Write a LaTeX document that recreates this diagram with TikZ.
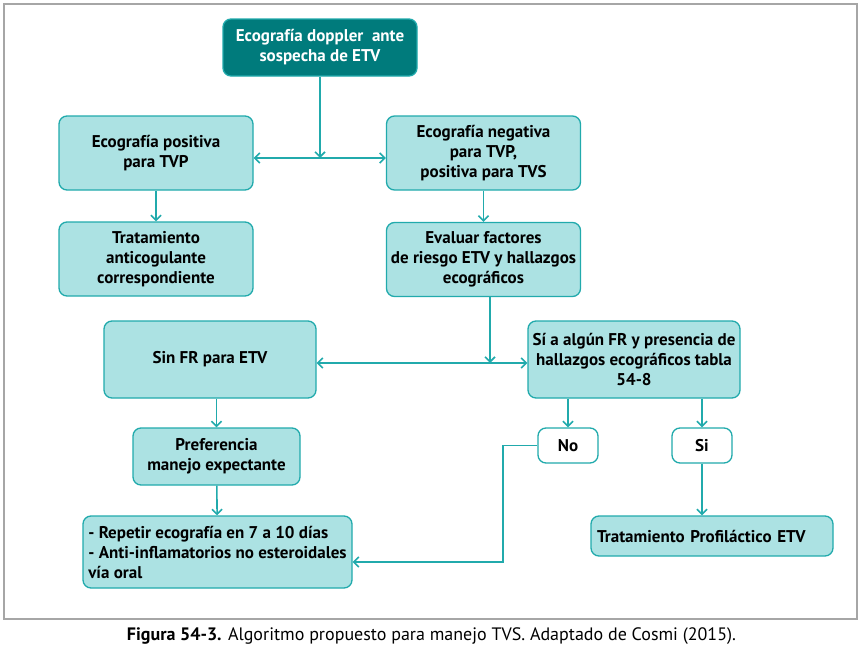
\documentclass[tikz,border=0pt]{standalone}
\usepackage{fontspec}
\setmainfont{PT Sans}
\usepackage{tikz}
\usetikzlibrary{positioning, arrows.meta, calc}
\definecolor{etvteal}{RGB}{33, 170, 172}
\definecolor{etvlight}{RGB}{172, 226, 227}
\definecolor{etvdark}{RGB}{0, 123, 124}

\begin{document}
\begin{tikzpicture}[x=1pt, y=-1pt,
        block/.style={rectangle, draw=etvteal, fill=etvlight, line width=1.3pt, rounded corners=8pt, text centered, align=center, inner sep=2pt, font=\bfseries\fontsize{17}{20}\selectfont},
        answer/.style={block, fill=white, minimum width=60pt, minimum height=35pt},
        arrow/.style={->, >={Straight Barb[length=5pt, width=10pt]}, draw=etvteal, line width=1.6pt},
        twoway/.style={arrow, <->}
    ]
        % Frame
        \useasboundingbox (0,0) rectangle (863,653);
        \draw[black!35, line width=1.3pt] (4,4) rectangle (857,619);

        % Start
        \node[block, fill=etvdark, text=white, minimum width=194pt, minimum height=57pt] (doppler) at (320,47.5) {Ecografía doppler\ \ ante\\ sospecha de ETV};

        % First result
        \node[block, minimum width=194pt, minimum height=74pt] (positiva) at (156,153) {Ecografía positiva\\ para TVP};
        \node[block, minimum width=194pt, minimum height=74pt] (negativa) at (483.5,153) {Ecografía negativa\\ para TVP,\\ positiva para TVS};
        \node[block, minimum width=194pt, minimum height=74pt] (tratamiento) at (156,259) {Tratamiento\\ anticogulante\\ correspondiente};
        \node[block, minimum width=194pt, minimum height=74pt] (evaluar) at (483.5,259.5) {Evaluar factores\\ de riesgo ETV y hallazgos\\ ecográficos};

        % Risk factors
        \node[block, minimum width=212pt, minimum height=77pt] (sinfr) at (210,359.5) {Sin FR para ETV};
        \node[block, minimum width=212pt, minimum height=77pt] (sifr) at (634,359.5) {Sí a algún FR y presencia de\\ hallazgos ecográficos tabla\\ 54-8};
        \node[answer] (no) at (568,445.5) {No};
        \node[answer] (si) at (702,445.5) {Si};

        % Management
        \node[block, minimum width=167pt, minimum height=57pt] (preferencia) at (216.5,456.5) {Preferencia\\ manejo expectante};
        \node[block, minimum width=269pt, minimum height=72pt, align=left] (repetir) at (217.5,552) {- Repetir ecografía en 7 a 10 días\\ - Anti-inflamatorios no esteroidales\\ vía oral};
        \node[block, minimum width=242pt, minimum height=40pt, text width=230pt, align=left] (profilactico) at (712,536) {Tratamiento Profiláctico ETV};

        % Caption
        \node[font=\fontsize{18}{20}\selectfont] (caption) at (431.5,636) {\textbf{Figura 54-3.} Algoritmo propuesto para manejo TVS. Adaptado de Cosmi (2015).};

        % Connectors
        \coordinate (split1) at (320,158);
        \coordinate (split2) at (490,363);
        \coordinate (bend) at (503,562);
        \draw[arrow] (doppler) -- (split1);
        \draw[twoway] (positiva.east |- split1) -- (negativa.west |- split1);
        \draw[arrow] (positiva) -- (tratamiento);
        \draw[arrow] (negativa) -- (evaluar);
        \draw[arrow] (evaluar.south -| split2) -- (split2);
        \draw[twoway] (sinfr.east |- split2) -- (sifr.west |- split2);
        \draw[arrow] (sinfr.south -| preferencia) -- (preferencia);
        \draw[arrow] (preferencia) -- (repetir);
        \draw[arrow] (sifr.south -| no) -- (no);
        \draw[arrow] (sifr.south -| si) -- (si);
        \draw[arrow] (si) -- (si |- profilactico.north);
        \draw[arrow] (no.west) -| (bend) -- (repetir.east |- bend);
    \end{tikzpicture}
\end{document}
